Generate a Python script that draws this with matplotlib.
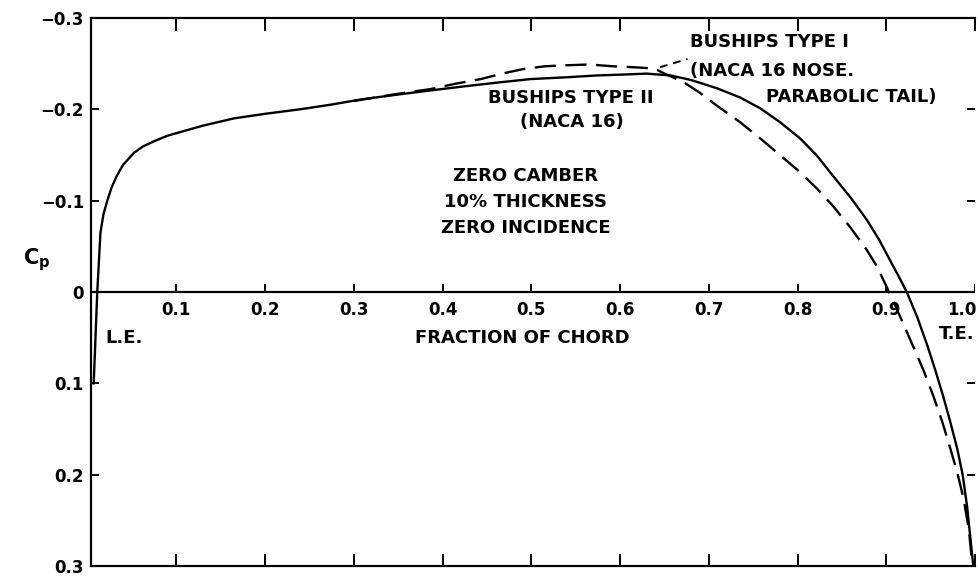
import matplotlib.pyplot as plt

# Type II (NACA 16) - solid
x_type2 = [0.007, 0.009, 0.011, 0.0146, 0.018, 0.022, 0.027, 0.033, 0.040, 0.052,
           0.062, 0.075, 0.090, 0.108, 0.130, 0.165, 0.200, 0.240, 0.274, 0.310,
           0.349, 0.390, 0.424, 0.460, 0.499, 0.540, 0.574, 0.605, 0.630, 0.657,
           0.680, 0.709, 0.735, 0.758, 0.780, 0.803, 0.822, 0.840, 0.860, 0.878,
           0.892, 0.904, 0.914, 0.923, 0.935, 0.946, 0.955, 0.964, 0.972, 0.980,
           0.986, 0.991, 0.998]
cp_type2 = [0.10, 0.05, 0.0, -0.065, -0.085, -0.099, -0.114, -0.127, -0.139, -0.152,
            -0.159, -0.165, -0.171, -0.176, -0.182, -0.190, -0.195, -0.200, -0.205, -0.211,
            -0.216, -0.221, -0.225, -0.229, -0.233, -0.235, -0.237, -0.238, -0.239, -0.237,
            -0.232, -0.223, -0.213, -0.201, -0.186, -0.168, -0.149, -0.127, -0.103, -0.079,
            -0.057, -0.035, -0.017, 0.0, 0.028, 0.058, 0.085, 0.114, 0.142, 0.172,
            0.200, 0.235, 0.30]

# Type I (NACA 16 nose, parabolic tail) - dashed, same nose as type II up to about 0.3
x_type1 = [0.300, 0.350, 0.386, 0.415, 0.443, 0.467, 0.491, 0.515, 0.536, 0.565,
           0.592, 0.615, 0.631, 0.642, 0.650, 0.671, 0.690, 0.709, 0.735, 0.758,
           0.780, 0.803, 0.822, 0.840, 0.860, 0.878, 0.890, 0.903, 0.916, 0.930,
           0.942, 0.953, 0.963, 0.972, 0.980, 0.987, 0.993, 0.997]
cp_type1 = [-0.209, -0.217, -0.222, -0.228, -0.233, -0.239, -0.244, -0.247, -0.248, -0.249,
            -0.247, -0.246, -0.245, -0.243, -0.239, -0.230, -0.218, -0.204, -0.186, -0.168,
            -0.150, -0.131, -0.113, -0.094, -0.070, -0.046, -0.027, 0.0, 0.028, 0.059,
            0.086, 0.114, 0.142, 0.171, 0.198, 0.226, 0.260, 0.30]

x_ticks = [0.1, 0.2, 0.3, 0.4, 0.5, 0.6, 0.7, 0.8, 0.9, 1.0]
x_tick_labels = ["0.1", "0.2", "0.3", "0.4", "0.5", "0.6", "0.7", "0.8", "0.9", "1.0"]
y_ticks = [-0.3, -0.2, -0.1, 0.0, 0.1, 0.2, 0.3]
y_tick_labels = ["\u22120.3", "\u22120.2", "\u22120.1", "0", "0.1", "0.2", "0.3"]

plt.rcParams["font.family"] = ["DejaVu Sans"]
plt.rcParams["font.weight"] = "bold"

fig = plt.figure(figsize=(9.79, 5.77), dpi=100)
ax = fig.add_axes([0.093, 0.019, 0.903, 0.950])

ax.plot(x_type2, cp_type2, color="black", lw=1.7, solid_joinstyle="round")
ax.plot(x_type1, cp_type1, color="black", lw=1.7, dashes=(9, 4))
# leader from label to dashed curve
ax.plot([0.645, 0.676], [-0.246, -0.255], color="black", lw=1.4, dashes=(4, 3))

ax.axhline(0, color="black", lw=1.6)
ax.vlines(x_ticks, 0, -0.009, color="black", lw=1.4)

ax.set_xlim(0.004, 1.0)
ax.set_ylim(0.3, -0.3)

ax.spines["right"].set_visible(False)
for s in ["left", "top", "bottom"]:
    ax.spines[s].set_linewidth(1.6)

ax.set_xticks(x_ticks)
ax.tick_params(axis="x", top=True, bottom=True, direction="in", length=9, width=1.4,
               labelbottom=False)
ax.set_yticks(y_ticks)
ax.set_yticklabels(y_tick_labels, fontsize=12, fontweight="bold")
ax.tick_params(axis="y", left=True, right=True, direction="in", length=6, width=1.4, pad=5)

for xt, lab in zip(x_ticks, x_tick_labels):
    xpos = 0.985 if lab == "1.0" else xt
    ax.text(xpos, 0.02, lab, ha="center", va="center", fontsize=12, fontweight="bold")

fs = 13
ax.text(0.679, -0.274, "BUSHIPS TYPE I", ha="left", va="center", fontsize=fs, fontweight="bold")
ax.text(0.679, -0.242, "(NACA 16 NOSE.", ha="left", va="center", fontsize=fs, fontweight="bold")
ax.text(0.764, -0.213, "PARABOLIC TAIL)", ha="left", va="center", fontsize=fs, fontweight="bold")
ax.text(0.544, -0.212, "BUSHIPS TYPE II", ha="center", va="center", fontsize=fs, fontweight="bold")
ax.text(0.546, -0.186, "(NACA 16)", ha="center", va="center", fontsize=fs, fontweight="bold")
ax.text(0.494, -0.127, "ZERO CAMBER", ha="center", va="center", fontsize=fs, fontweight="bold")
ax.text(0.494, -0.099, "10% THICKNESS", ha="center", va="center", fontsize=fs, fontweight="bold")
ax.text(0.494, -0.070, "ZERO INCIDENCE", ha="center", va="center", fontsize=fs, fontweight="bold")
ax.text(0.490, 0.050, "FRACTION OF CHORD", ha="center", va="center", fontsize=fs, fontweight="bold")
ax.text(0.020, 0.050, "L.E.", ha="left", va="center", fontsize=fs, fontweight="bold")
ax.text(0.999, 0.046, "T.E.", ha="right", va="center", fontsize=fs, fontweight="bold")

fig.text(37 / 979, 1 - 260 / 577, r"$\mathbf{C}_\mathbf{p}$", ha="center", va="center", fontsize=15)

fig.savefig("out.png", dpi=100)
